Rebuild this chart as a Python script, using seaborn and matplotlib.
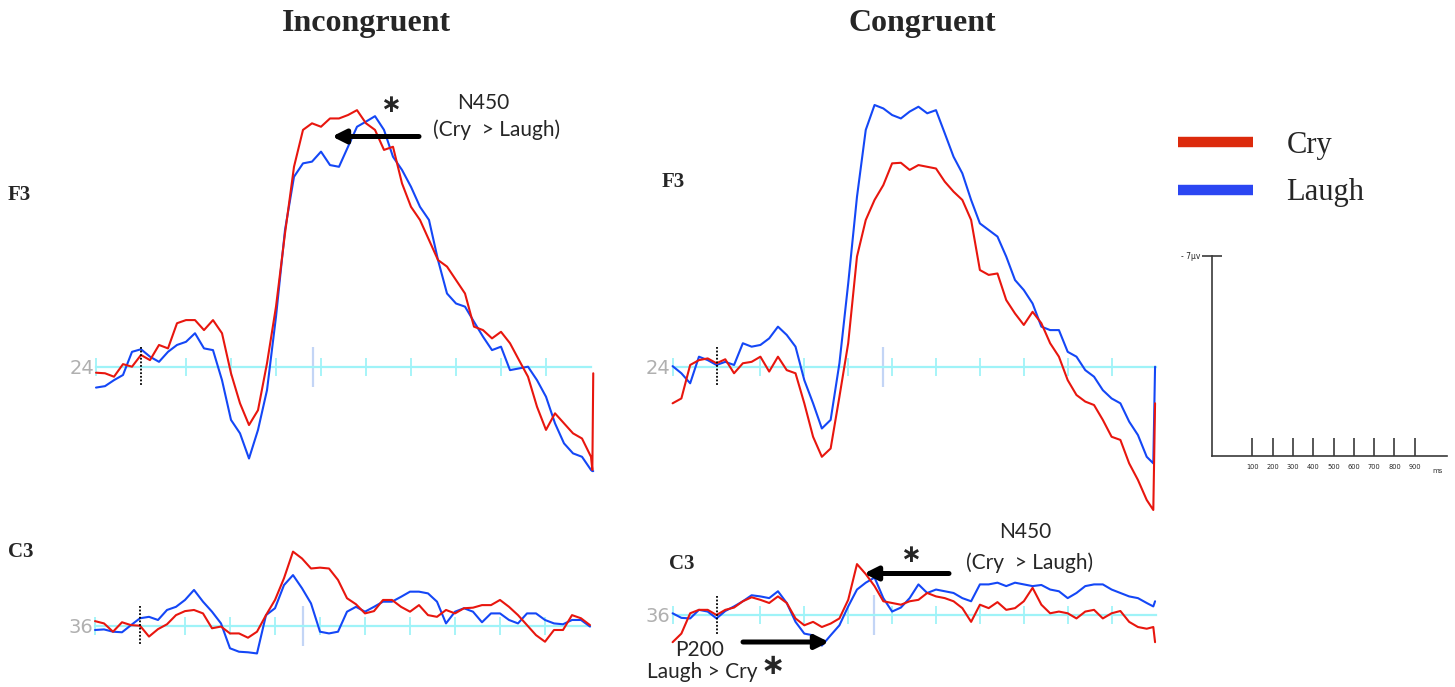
import numpy as np
import pandas as pd
import matplotlib
matplotlib.use("Agg")
import matplotlib.pyplot as plt
from matplotlib.lines import Line2D
import seaborn as sns

# ---------------- data (µV, negative plotted up) ----------------
grid_full = list(range(-100, 1001, 20))          # -100 .. 1000 ms
grid_short = list(range(-100, 981, 20))          # -100 .. 980 ms

# Incongruent F3
f3_inc_ms = grid_full + [1003, 1005]
f3_inc_cry = [0.21, 0.23, 0.35, -0.09, 0.00, -0.41, -0.23, -0.76, -0.64, -1.52,
              -1.63, -1.63, -1.28, -1.63, -1.17, 0.23, 1.28, 2.04, 1.52, -0.12,
              -2.10, -4.66, -6.99, -8.28, -8.51, -8.39, -8.68, -8.68, -8.80, -8.97,
              -8.51, -8.28, -7.58, -7.69, -6.41, -5.59, -5.13, -4.43, -3.73, -3.50,
              -3.03, -2.56, -1.40, -1.28, -0.99, -1.22, -0.82, -0.23, 0.35, 1.40,
              2.21, 1.63, 1.98, 2.33, 2.51, 3.15, 3.61, 0.23]
f3_inc_laugh = [0.73, 0.68, 0.47, 0.29, -0.52, -0.61, -0.35, -0.17, -0.52, -0.76,
                -0.87, -1.17, -0.64, -0.58, 0.47, 1.86, 2.33, 3.21, 2.21, 0.82,
                -1.75, -4.78, -6.64, -7.11, -7.17, -7.52, -7.05, -6.99, -7.69, -8.39,
                -8.57, -8.76, -8.28, -7.34, -6.88, -6.29, -5.59, -5.13, -3.73, -2.56,
                -2.21, -2.10, -1.57, -1.05, -0.58, -0.70, 0.12, 0.06, 0.00, 0.47,
                1.05, 1.98, 2.68, 3.03, 3.15, 3.61, 3.65, 3.65]

# Congruent F3
f3_con_ms = grid_short + [995, 999]
f3_con_cry = [1.28, 1.11, -0.06, -0.23, -0.29, -0.12, -0.26, 0.23, -0.12, -0.17,
              -0.35, 0.17, -0.35, 0.12, 0.23, 1.28, 2.45, 3.15, 2.86, 1.05,
              -0.82, -3.85, -5.13, -5.83, -6.35, -7.11, -7.13, -6.88, -7.05, -6.99,
              -6.93, -6.47, -6.12, -5.83, -5.13, -3.38, -3.21, -3.26, -2.33, -1.86,
              -1.46, -1.92, -1.52, -0.82, -0.35, 0.47, 0.99, 1.22, 1.34, 1.86,
              2.45, 2.56, 3.38, 3.96, 4.66, 5.01, 1.28]
f3_con_laugh = [-0.02, 0.23, 0.58, -0.35, -0.23, -0.06, -0.17, -0.06, -0.82, -0.70,
                -0.76, -0.99, -1.40, -1.11, -0.70, 0.47, 1.28, 2.16, 1.86, -0.12,
                -2.91, -5.94, -8.28, -9.15, -9.03, -8.80, -8.68, -8.92, -9.09, -8.86,
                -8.97, -8.16, -7.34, -6.76, -5.83, -5.01, -4.78, -4.55, -3.85, -3.03,
                -2.68, -2.21, -1.40, -1.28, -1.28, -0.52, -0.35, 0.12, 0.35, 0.82,
                1.11, 1.28, 1.92, 2.39, 3.15, 3.38, 0.00]

# Incongruent C3
c3_inc_ms = grid_full
c3_inc_cry = [-0.16, -0.08, 0.21, -0.12, -0.02, 0.00, 0.38, 0.12, -0.05, -0.37,
              -0.51, -0.55, -0.43, 0.09, 0.03, 0.27, 0.27, 0.42, 0.21, -0.37,
              -0.90, -1.66, -2.59, -2.35, -2.00, -2.03, -2.00, -1.60, -0.96, -0.75,
              -0.43, -0.51, -0.90, -0.90, -0.66, -0.49, -0.72, -0.37, -0.31, -0.55,
              -0.43, -0.61, -0.63, -0.72, -0.72, -0.90, -0.66, -0.37, -0.02, 0.33,
              0.56, 0.15, 0.15, -0.37, -0.26, -0.02]
c3_inc_laugh = [0.15, 0.13, 0.21, 0.23, -0.02, -0.26, -0.31, -0.20, -0.55, -0.66,
                -0.90, -1.25, -0.84, -0.49, -0.08, 0.79, 0.91, 0.93, 0.97, -0.37,
                -0.61, -1.42, -1.77, -1.31, -0.78, 0.21, 0.27, 0.21, -0.49, -0.66,
                -0.49, -0.66, -0.84, -0.84, -1.01, -1.19, -1.19, -1.13, -0.84, -0.08,
                -0.49, -0.61, -0.49, -0.12, -0.43, -0.43, -0.20, -0.08, -0.43, -0.43,
                -0.20, -0.08, -0.05, -0.20, -0.20, 0.03]

# Congruent C3
c3_con_ms = grid_short + [995, 999]
c3_con_cry = [0.95, 0.65, -0.06, -0.18, -0.18, 0.00, -0.18, -0.26, -0.48, -0.62,
              -0.53, -0.42, -0.65, -0.42, 0.12, 0.36, 0.24, 0.42, 0.30, 0.12,
              -0.53, -1.78, -1.43, -1.01, -0.48, -0.42, -0.36, -0.48, -0.53, -0.77,
              -0.65, -0.59, -0.48, -0.24, 0.24, -0.36, -0.24, -0.45, -0.18, -0.24,
              -0.48, -0.95, -0.36, -0.06, -0.12, -0.06, 0.12, -0.12, -0.18, 0.12,
              -0.06, -0.14, 0.24, 0.42, 0.48, 0.42, 0.95]
c3_con_laugh = [-0.06, 0.10, 0.12, -0.18, -0.12, 0.12, -0.14, -0.30, -0.48, -0.69,
                -0.65, -0.59, -0.83, -0.42, 0.24, 0.65, 0.71, 1.07, 0.71, 0.36,
                -0.30, -0.89, -1.13, -1.31, -0.59, -0.12, -0.26, -0.59, -1.07, -0.77,
                -0.89, -0.83, -0.77, -0.59, -0.48, -1.07, -1.07, -1.13, -1.01, -1.13,
                -1.07, -1.01, -1.05, -0.89, -0.83, -0.59, -0.77, -1.01, -1.07, -1.07,
                -0.89, -0.77, -0.65, -0.59, -0.42, -0.30, -0.48]

# cursor markers (ms) per panel, baseline tick marks, channel baseline labels
cursor_ms = {"f3_inc": 382, "f3_con": 379, "c3_inc": 362, "c3_con": 358}
baseline_ticks_ms = [-100, 100, 200, 300, 400, 500, 600, 700, 800, 900]
scale_ticks_ms = [100, 200, 300, 400, 500, 600, 700, 800, 900]
conditions = ["Cry", "Laugh"]

# ---------------- style ----------------
W, H = 1455, 687
sns.set_style("white")
plt.rcParams['font.family'] = ['DejaVu Sans']

RED = '#e8160e'
BLUE = '#1447f6'
LEG_RED = '#dc2a0c'
LEG_BLUE = '#2b46f2'
CYAN = '#9ff3f8'
CURSOR = '#c3d5f6'
PX_PER_UV = 28.6

fig = plt.figure(figsize=(W / 100, H / 100), dpi=100)


def make_panel(x_zero, px_per_ms, y_base, x_right, y_top, y_bot):
    x_left = x_zero - 100 * px_per_ms
    ax = fig.add_axes([x_left / W, 1 - y_bot / H, (x_right - x_left) / W, (y_bot - y_top) / H])
    ax.patch.set_alpha(0)
    return ax, ((x_left - x_zero) / px_per_ms, (x_right - x_zero) / px_per_ms), \
        ((y_bot - y_base) / PX_PER_UV, (y_top - y_base) / PX_PER_UV)


def draw_panel(ax, xlim, ylim, ms, cry, laugh, label, cursor):
    df = pd.DataFrame({"ms": ms * 2, "uv": list(cry) + list(laugh),
                       "cond": ["Cry"] * len(ms) + ["Laugh"] * len(ms)})
    sns.lineplot(data=df[df.cond == "Cry"], x="ms", y="uv", ax=ax, color=RED,
                 linewidth=1.5, estimator=None, sort=False, zorder=4)
    sns.lineplot(data=df[df.cond == "Laugh"], x="ms", y="uv", ax=ax, color=BLUE,
                 linewidth=1.5, estimator=None, sort=False, zorder=3)
    ax.set_xlim(*xlim)
    ax.set_ylim(*ylim)
    ax.set_xlabel("")
    ax.set_ylabel("")
    for s in ["top", "right", "left"]:
        ax.spines[s].set_visible(False)
    sp = ax.spines["bottom"]
    sp.set_position(("data", 0))
    sp.set_bounds(-100, 1000)
    sp.set_color(CYAN)
    sp.set_linewidth(1.6)
    sp.set_zorder(1)
    ax.set_xticks(baseline_ticks_ms)
    ax.tick_params(axis="x", bottom=True, direction="inout", length=13, width=1.3,
                   color=CYAN, labelbottom=False)
    ax.set_yticks([0])
    ax.set_yticklabels([label])
    ax.tick_params(axis="y", left=True, length=0, pad=1.5, labelsize=14, labelcolor="#b0b0b0")
    ax.vlines(cursor, -0.7, 0.7, color=CURSOR, linewidth=1.6, zorder=1)
    ax.vlines(0, -0.68, 0.68, color="black", linestyles=(0, (1, 1)), linewidth=1.3, zorder=5)
    for ln in ax.lines:
        ln.set_clip_on(False)


ax1, xl, yl = make_panel(141, 0.45, 366.7, 610, 85, 495)
draw_panel(ax1, xl, yl, f3_inc_ms, f3_inc_cry, f3_inc_laugh, "24", cursor_ms["f3_inc"])
ax2, xl, yl = make_panel(716.5, 0.439, 366.7, 1170, 85, 520)
draw_panel(ax2, xl, yl, f3_con_ms, f3_con_cry, f3_con_laugh, "24", cursor_ms["f3_con"])
ax3, xl, yl = make_panel(140, 0.45, 625.7, 610, 535, 670)
draw_panel(ax3, xl, yl, c3_inc_ms, c3_inc_cry, c3_inc_laugh, "36", cursor_ms["c3_inc"])
ax4, xl, yl = make_panel(716.5, 0.439, 615, 1170, 520, 660)
draw_panel(ax4, xl, yl, c3_con_ms, c3_con_cry, c3_con_laugh, "36", cursor_ms["c3_con"])

# ---------------- scale bar ----------------
sx0, sx1, sy0, sy1 = 1211.7, 1446.7, 255.7, 456
axs = fig.add_axes([sx0 / W, 1 - sy1 / H, (sx1 - sx0) / W, (sy1 - sy0) / H])
axs.patch.set_alpha(0)
axs.set_xlim(-100, -100 + (sx1 - sx0) / 0.203)
axs.set_ylim(0, -7)
for s in ["top", "right"]:
    axs.spines[s].set_visible(False)
for s in ["left", "bottom"]:
    axs.spines[s].set_color("#3a3a3a")
    axs.spines[s].set_linewidth(1.2)
axs.set_yticks([-7])
axs.set_yticklabels(["- 7µv"])
axs.tick_params(axis="y", left=True, direction="inout", length=15, width=1.2,
                color="#3a3a3a", labelsize=5.5, pad=1)
axs.set_xticks(scale_ticks_ms)
axs.set_xticklabels([str(v) for v in scale_ticks_ms])
axs.tick_params(axis="x", bottom=True, direction="in", length=12.7, width=1.2,
                color="#3a3a3a", labelsize=4.8, pad=6)

# ---------------- overlay (titles, labels, annotations) ----------------
ov = fig.add_axes([0, 0, 1, 1])
ov.set_xlim(0, W)
ov.set_ylim(H, 0)
ov.axis("off")
ov.patch.set_alpha(0)

serif = "Liberation Serif"
ann = "Lato"
ov.text(366, 23, "Incongruent", ha="center", va="center", fontsize=23,
        fontweight="bold", family=serif)
ov.text(922, 23, "Congruent", ha="center", va="center", fontsize=23,
        fontweight="bold", family=serif)
ov.text(8, 195, "F3", ha="left", va="center", fontsize=15, fontweight="bold", family=serif)
ov.text(662, 182, "F3", ha="left", va="center", fontsize=15, fontweight="bold", family=serif)
ov.text(8, 552, "C3", ha="left", va="center", fontsize=15, fontweight="bold", family=serif)
ov.text(669, 564, "C3", ha="left", va="center", fontsize=15, fontweight="bold", family=serif)
ov.text(1438, 471, "ms", ha="center", va="center", fontsize=5, color="#333333")

star = r"$\mathbf{\ast}$"
# Incongruent F3 N450
ov.text(483, 103, "N450", ha="center", va="center", fontsize=15, family=ann)
ov.text(497, 130, "(Cry  > Laugh)", ha="center", va="center", fontsize=15, family=ann)
ov.text(390, 105, star, ha="center", va="center", fontsize=18)
arrow = dict(arrowstyle="-|>", lw=3.6, color="black", mutation_scale=20, shrinkA=0, shrinkB=0)
ov.annotate("", xy=(332, 136.5), xytext=(419, 136.5), arrowprops=arrow)

# Congruent C3 N450
ov.text(1025, 532, "N450", ha="center", va="center", fontsize=15, family=ann)
ov.text(1030, 563, "(Cry  > Laugh)", ha="center", va="center", fontsize=15, family=ann)
ov.text(910, 555, star, ha="center", va="center", fontsize=18)
ov.annotate("", xy=(864, 573.5), xytext=(949, 573.5), arrowprops=arrow)

# Congruent C3 P200
ov.text(700, 650, "P200", ha="center", va="center", fontsize=15, family=ann)
ov.text(702, 672, "Laugh > Cry", ha="center", va="center", fontsize=15, family=ann)
ov.text(771, 666, star, ha="center", va="center", fontsize=21)
ov.annotate("", xy=(829, 642), xytext=(743, 642), arrowprops=arrow)

# legend
handles = [Line2D([0], [0], color=LEG_RED, lw=7.5, solid_capstyle="butt"),
           Line2D([0], [0], color=LEG_BLUE, lw=7.5, solid_capstyle="butt")]
fig.legend(handles, conditions, loc="upper left", bbox_to_anchor=(1178 / W, 1 - 131 / H),
           frameon=False, borderpad=0, borderaxespad=0, handlelength=2.45,
           handletextpad=1.1, labelspacing=0.6, prop={"family": serif, "size": 22})

fig.savefig("out.png", dpi=100)
